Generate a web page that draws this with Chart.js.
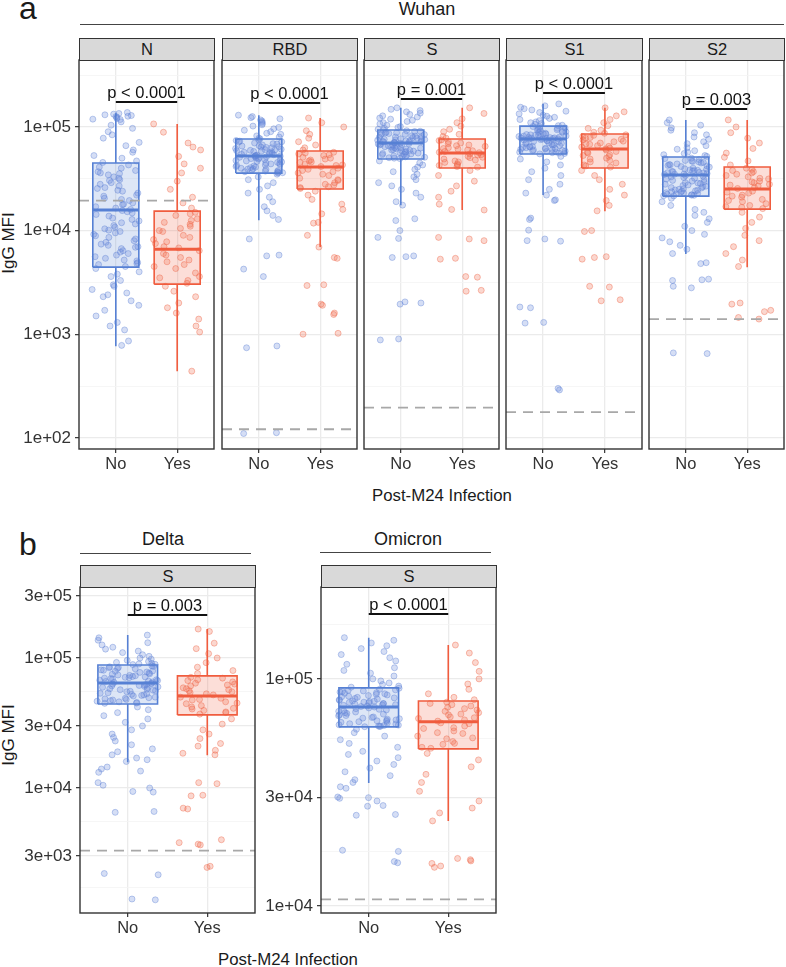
<!DOCTYPE html>
<html>
<head>
<meta charset="utf-8">
<script src="https://cdn.jsdelivr.net/npm/chart.js@4.4.0/dist/chart.umd.min.js"></script>
<style>
body { margin: 0; background: #fff; font-family: "Liberation Sans", Arial, sans-serif; color: #1a1a1a; }
#page { position: relative; width: 786px; height: 967px; overflow: hidden; }
canvas { position: absolute; }
.t { position: absolute; white-space: nowrap; line-height: 1; }
.c { transform: translateX(-50%); }
.strip { position: absolute; background: #d9d9d9; border: 1.4px solid #333; box-sizing: border-box;
         text-align: center; font-size: 16.5px; color: #1a1a1a; }
.rule { position: absolute; height: 0; border-top: 1.5px solid #444; }
.ylab { position: absolute; white-space: nowrap; font-size: 17px; line-height: 1;
        transform: translate(-50%, -50%) rotate(-90deg); }
</style>
</head>
<body>
<div id="page">
  <div class="t" style="left:19px;top:-8px;font-size:32px">a</div>
  <div class="t c" style="left:427px;top:0px;font-size:18px">Wuhan</div>
  <div class="rule" style="left:80px;top:24px;width:704px"></div>

  <div class="t" style="left:19px;top:528px;font-size:32px">b</div>
  <div class="t c" style="left:163px;top:530px;font-size:18px">Delta</div>
  <div class="rule" style="left:80px;top:553px;width:171px"></div>
  <div class="t c" style="left:408px;top:530px;font-size:18px">Omicron</div>
  <div class="rule" style="left:320px;top:552px;width:171px"></div>

  <div class="ylab" style="left:8px;top:243px">IgG MFI</div>
  <div class="ylab" style="left:8px;top:735px">IgG MFI</div>
  <div class="t c" style="left:442px;top:488px;font-size:16.8px">Post-M24 Infection</div>
  <div class="t c" style="left:288px;top:952px;font-size:16.8px">Post-M24 Infection</div>
</div>
<script>
// facets and labels
const facetNames = ['N', 'RBD', 'S', 'S1', 'S2', 'S', 'S'];
const groups = ['No', 'Yes'];
const pText = ['p < 0.0001', 'p < 0.0001', 'p = 0.001', 'p < 0.0001', 'p = 0.003', 'p = 0.003', 'p < 0.0001'];
const pBar = [174000, 170000, 186000, 213000, 149000, 214000, 193000];
const cutoff = [19500, 121, 196, 177, 1400, 3300, 10700];

// box stats: lower whisker, Q1, median, Q3, upper whisker
const boxNo = [
  [766, 4440, 15800, 44900, 136000],
  [12600, 35900, 52500, 76600, 130000],
  [17600, 49100, 70000, 93500, 153000],
  [22000, 54800, 76600, 102000, 167000],
  [5930, 21500, 34400, 51300, 117000],
  [15800, 44300, 64300, 88300, 150000],
  [34800, 61500, 75300, 91300, 152000]
];
const boxYes = [
  [440, 3040, 6620, 15400, 107000],
  [6930, 25200, 41100, 58700, 122000],
  [15800, 40200, 56100, 76600, 153000],
  [15400, 40200, 61300, 85600, 153000],
  [4440, 16100, 25200, 41100, 117000],
  [17900, 36500, 51000, 72800, 167000],
  [23700, 49200, 64700, 80000, 141000]
];

// y axis breaks
const majorA = [100, 1000, 10000, 100000];
const minorA = [316, 3160, 31600, 316000];
const majorDelta = [3000, 10000, 30000, 100000, 300000];
const minorDelta = [1730, 5480, 17300, 54800, 173000];
const majorOmi = [10000, 30000, 100000];
const minorOmi = [17300, 54800, 173000];

// individual samples (IgG MFI)
const nNo = [138000,135000,133000,131000,129000,127000,126000,124000,121000,119000,118000,112000,104000,97000,90000,84000,78000,71000,66000,60000,57000,53000,50000,47000,45500,
  43000,41000,38000,36000,34500,32000,30500,29000,27000,25500,24000,23000,21500,20500,19500,18500,17800,17000,16500,16000,
  15200,14300,13200,12400,11600,10800,10100,9500,8900,8300,7700,7200,6700,6200,5800,5400,5100,4900,4700,4500,
  4300,4000,3800,3600,3300,3000,2900,2700,2500,2400,2300,2100,1900,1700,1500,1300,1200,1100,860,780,
  40000,37000,33000,31000,28000,26000,22000,20000,18000,14800,13800,12800,11200,10400,9800,9200,8600,8000,7400,6900,6400,6000,5600,5200,4800,35500,24500,15600,11900,7000];
const nYes = [107000,89000,70000,64000,60000,52000,44000,40000,36000,30000,25000,21000,18500,16500,
  15000,14000,12500,11500,10500,9800,9000,8200,7500,7000,
  6400,6000,5500,5000,4700,4300,3900,3600,3300,3100,
  2900,2600,2300,2000,1800,1600,1400,1200,1050,440,
  14500,13000,12000,11000,10000,8600,7800,6800,5800,5200,4500,3500];
const rbdNo = [130000,126000,123000,120000,117000,114000,111000,108000,105000,102000,99000,96000,93000,90000,87000,85000,82000,80000,78000,77000,
  75000,73000,71500,70000,68500,67000,65500,64000,63000,62000,60500,59000,58000,57000,56000,55000,54000,53500,53000,52700,
  52000,51000,50000,49000,48000,47000,46000,45000,44000,43000,42000,41000,40000,39500,39000,38000,37500,37000,36500,36000,
  35000,33000,31000,29000,27000,25000,23000,21000,19000,17000,15500,14000,12800,8300,5800,5700,4250,3600,770,740,112,110,
  74000,72000,69000,66000,63500,61000,59500,57500,55500,54500,51500,50500,48500,47500,46500,44500,43500,41500,40500,38500,37200,36200,64500,58500,52300,49500,45500,42500,39200,60000];
const rbdYes = [122000,110000,100000,92000,85000,78000,72000,67000,63000,60000,
  57000,55000,53000,51000,49000,47000,45500,44000,42500,41500,
  40000,38000,36000,34000,32000,30500,29000,27500,26500,25500,
  24000,22000,20000,18000,16000,14500,12000,11800,9000,6930,5500,5400,3000,2950,1950,1900,1600,1550,1020,1000,
  56000,54000,50000,48000,46000,43000,39000,37000,35000,31000,28000,26000];
const sNo = [153000,148000,144000,140000,136000,132000,128000,125000,122000,119000,116000,113000,110000,107000,104000,101000,99000,97000,95000,94000,
  92000,90500,89000,87500,86000,84500,83000,81500,80000,79000,78000,77000,76000,75000,74000,73000,72000,71500,71000,70500,
  69000,68000,67000,66000,65000,64000,63000,62000,61000,60000,59000,58000,57000,56000,55000,54000,53000,52000,51000,50000,
  47000,45000,43000,41000,39000,37000,35000,33000,31000,29000,27000,25000,23000,21000,19000,17600,13000,12500,10000,8600,8400,5700,5600,5500,2050,2000,1950,900,880,
  91000,88000,85000,82000,79500,77500,75500,73500,72500,69500,68500,66500,64500,62500,60500,58500,56500,54500,52500,50500,49500,86500,80500,74500,67500,63500,59500,55500,51500,70200];
const sYes = [153000,135000,120000,110000,102000,95000,90000,85000,81000,78000,
  75000,72000,69000,67000,65000,63000,61000,59000,58000,57000,
  55000,53500,52000,50500,49000,47000,45500,44000,42500,41000,
  38000,34000,30000,27000,24000,21000,18000,16000,15800,8600,8300,8000,5400,5300,3600,3550,2650,2600,
  74000,70000,66000,62000,60000,56500,54000,51000,48000,46000,43000,41500];
const s1No = [167000,160000,155000,150000,146000,142000,138000,134000,130000,127000,124000,121000,118000,115000,112000,110000,108000,106000,104000,103000,
  100000,98000,96000,94000,92000,90000,88500,87000,85500,84000,83000,82000,81000,80000,79000,78500,78000,77500,77000,76800,
  75500,74000,72500,71000,69500,68000,66500,65000,64000,63000,62000,61000,60000,59000,58000,57000,56500,56000,55500,55000,
  52000,49000,46000,43000,40000,37000,34000,31000,28000,25000,23000,22000,19800,19500,13200,12800,10100,8300,8000,7900,1830,1800,1300,1280,300,290,
  101000,97000,93000,89000,86000,83500,81500,79500,78200,77200,76200,75000,73500,72000,70500,69000,67500,66000,64500,63500,62500,61500,60500,59500,58500,57500,95000,91000,84500,80500];
const s1Yes = [153000,140000,128000,118000,110000,103000,97000,93000,89000,87000,
  84000,81000,78000,75000,72000,70000,68000,66000,64000,62500,
  60000,58000,56000,54000,52000,50000,47500,45000,43000,41000,
  38000,34000,31000,28000,25000,22000,19500,17500,15500,10000,9800,5600,5500,5300,2900,2850,2150,2100,
  83000,79000,76000,73000,69000,65000,61500,57000,53000,49000,46000,42000];
const s2No = [117000,110000,104000,98000,93000,88000,84000,80000,76000,72000,69000,66000,63000,61000,59000,57000,55500,54000,53000,52000,
  50000,48500,47000,46000,45000,44000,43000,42000,41000,40000,39000,38500,38000,37500,37000,36500,36000,35500,35000,34800,
  33500,32500,31500,30500,29500,28800,28000,27200,26500,25800,25000,24500,24000,23500,23000,22600,22200,21900,21700,21600,
  20500,19000,17500,16000,15000,14000,13000,12000,11000,10000,9200,8500,7800,7200,6600,6000,4900,4800,3400,3350,3300,2900,2800,660,650,
  49500,47500,45500,43500,41500,39500,38200,37200,36200,35200,34000,33000,32000,31000,30000,29000,27600,26800,26000,25300,24700,24200,23700,23200,22800,22400,22000,46500,42500,28400];
const s2Yes = [117000,100000,88000,78000,70000,62000,56000,51000,47000,43000,
  39000,37000,35000,33000,31500,30000,29000,28000,27000,26000,
  24000,23000,22000,21000,20000,19000,18200,17500,16800,16300,
  15000,13500,12000,10500,9000,8000,7000,6000,5200,4500,2000,1950,1700,1650,1450,1400,
  40000,38000,36000,34000,32000,29500,27500,25500,23500,21500,19500,17000];
const deltaNo = [150000,143000,137000,131000,126000,121000,117000,113000,110000,106000,103000,100000,98000,96000,94000,92500,91000,90000,89500,89000,
  87000,85500,84000,82500,81000,79500,78000,76500,75000,74000,73000,72000,71000,70000,69000,68000,67000,66000,65500,65000,
  63000,62000,61000,60000,59000,58000,57000,56000,55000,54000,53000,52000,51000,50000,49000,48000,47000,46000,45500,45000,
  42000,40000,38000,36000,34000,32000,30000,28000,26000,24500,23000,21500,20000,19000,18000,17000,16500,16000,14500,14000,13500,13200,11000,10500,10000,9400,9300,6600,6500,2200,2150,1400,1380,
  86000,83000,80500,77500,75500,73500,71500,69500,67500,66500,64000,62500,61500,60500,59500,57500,55500,53500,51500,49500,47500,46500,44800,84500,79000,70500,63500,56500,52500,48500];
const deltaYes = [167000,160000,130000,118000,108000,100000,92000,85000,80000,76000,
  71000,68000,65500,63000,61000,59000,57000,55000,53000,52000,
  49000,47500,46000,44500,43000,42000,40500,39500,38000,37000,
  34000,31000,28000,26000,24000,22000,21000,19500,18500,18000,11000,10800,8800,8700,7000,6900,4000,3800,3700,3650,2500,2450,
  70000,67000,64000,62000,58000,56000,54000,50000,48000,45000,41000,38500];
const omiNo = [152000,148000,144000,140000,136000,132000,128000,124000,120000,116000,112000,109000,106000,103000,100000,98000,96000,94500,93000,92000,
  90000,89000,88000,87000,86000,85000,84000,83000,82000,81000,80000,79500,79000,78500,78000,77500,77000,76500,76000,75600,
  74500,73500,72500,71500,70500,69500,68800,68000,67200,66500,65800,65000,64400,63800,63300,62800,62400,62000,61800,61600,
  60000,58000,56000,54000,52000,50000,48000,46500,45000,43500,42000,40500,39000,37500,36000,35000,33500,33000,30200,30000,29800,29000,27700,27500,25300,25100,17600,17400,15700,15500,
  91000,89500,88500,87500,86500,85500,84500,83500,82500,81500,80500,79800,78800,77800,76800,75200,74000,73000,72000,71000,70000,69000,67600,66800,66000,65400,64800,63500,62600,61900];
const omiYes = [141000,130000,118000,108000,100000,95000,90000,86000,83000,81000,
  79000,77000,75000,73000,71000,69500,68000,67000,66000,65200,
  63500,62000,60500,59000,57500,56000,54500,53000,51500,50000,
  47000,44000,41000,38000,35000,32000,29000,27000,25700,23700,16200,16000,15800,15400,15000,14800,
  78000,76000,74000,72000,70000,67500,64000,61000,58000,55000,52000,49500];

const BLUE = 'rgb(86,128,212)';
const RED = 'rgb(240,92,62)';
const boxFill = ['rgba(86,128,212,0.2)', 'rgba(240,92,62,0.2)'];
const ptFill = ['rgba(105,138,218,0.28)', 'rgba(242,112,82,0.28)'];
const ptEdge = ['rgba(95,130,212,0.5)', 'rgba(238,100,70,0.5)'];

Chart.defaults.font.family = '"Liberation Sans", Arial, sans-serif';
const page = document.getElementById('page');

function sci(v) {
  const e = Math.floor(Math.log10(v) + 1e-9);
  const m = Math.round(v / Math.pow(10, e));
  return m + 'e+' + String(e).padStart(2, '0');
}

// horizontal jitter like geom_jitter (fixed hash so the picture is stable)
function spread(i, seed) {
  const s = Math.sin((i + 1) * 12.9898 + seed * 78.233) * 43758.5453;
  return s - Math.floor(s);
}
function jitter(vals, c, seed) {
  return vals.map((v, i) => ({ x: c + (spread(i, seed) - 0.5) * 0.78, y: v }));
}

function boxSets(s, c, col, fill) {
  const l = c - 0.375, r = c + 0.375;
  const line = { type: 'line', showLine: true, pointRadius: 0, borderColor: col, borderWidth: 1.6, order: 1 };
  return [
    { type: 'line', data: [{ x: l, y: s[3] }, { x: r, y: s[3] }], fill: { value: s[1] },
      backgroundColor: fill, borderWidth: 0, pointRadius: 0, order: 3 },
    Object.assign({}, line, { data: [{ x: l, y: s[1] }, { x: r, y: s[1] }, { x: r, y: s[3] }, { x: l, y: s[3] }, { x: l, y: s[1] }] }),
    Object.assign({}, line, { data: [{ x: l, y: s[2] }, { x: r, y: s[2] }], borderWidth: 3 }),
    Object.assign({}, line, { data: [{ x: c, y: s[4] }, { x: c, y: s[3] }, { x: c, y: null }, { x: c, y: s[1] }, { x: c, y: s[0] }] })
  ];
}

function facet(k, L, T, W, H, yW, yMin, yMax, majors, minors, noVals, yesVals) {
  const xH = 30;
  const cv = document.createElement('canvas');
  cv.width = yW + W + 4;
  cv.height = H + xH + 2;
  cv.style.left = (L - yW - 2) + 'px';
  cv.style.top = (T - 2) + 'px';
  page.appendChild(cv);

  const strip = document.createElement('div');
  strip.className = 'strip';
  strip.style.cssText = `left:${L}px;top:${T - 22}px;width:${W + 1}px;height:23px;line-height:21px`;
  strip.textContent = facetNames[k];
  page.appendChild(strip);

  const showY = yW > 0;
  const isMajor = v => majors.includes(v);

  const deco = {
    id: 'deco',
    afterDatasetsDraw(chart) {
      const { ctx, scales: { x, y } } = chart;
      ctx.save();
      ctx.fillStyle = '#111';
      ctx.font = '16.5px "Liberation Sans", Arial, sans-serif';
      ctx.textAlign = 'center';
      ctx.textBaseline = 'alphabetic';
      ctx.fillText(pText[k], x.getPixelForValue(1.5), y.getPixelForValue(pBar[k]) - 4);
      ctx.restore();
    },
    afterDraw(chart) {
      const a = chart.chartArea, ctx = chart.ctx;
      ctx.save();
      ctx.strokeStyle = '#333';
      ctx.lineWidth = 1.4;
      ctx.strokeRect(a.left, a.top, a.right - a.left, a.bottom - a.top);
      ctx.restore();
    }
  };

  new Chart(cv, {
    type: 'scatter',
    data: {
      datasets: [
        { type: 'line', data: [{ x: 0.4, y: cutoff[k] }, { x: 2.6, y: cutoff[k] }], borderColor: '#a8a8a8',
          borderWidth: 1.8, borderDash: [10, 7], pointRadius: 0, order: 0 },
        { type: 'line', data: [{ x: 1, y: pBar[k] }, { x: 2, y: pBar[k] }], borderColor: '#111',
          borderWidth: 2, pointRadius: 0, order: 0 },
        ...boxSets(boxNo[k], 1, BLUE, boxFill[0]),
        ...boxSets(boxYes[k], 2, RED, boxFill[1]),
        { data: jitter(noVals, 1, k + 1), pointRadius: 3, borderWidth: 0.8,
          backgroundColor: ptFill[0], borderColor: ptEdge[0], order: 2 },
        { data: jitter(yesVals, 2, k + 11), pointRadius: 3, borderWidth: 0.8,
          backgroundColor: ptFill[1], borderColor: ptEdge[1], order: 2 }
      ]
    },
    options: {
      responsive: false,
      animation: false,
      devicePixelRatio: 1,
      events: [],
      layout: { autoPadding: false, padding: { left: 2, right: 2, top: 2, bottom: 0 } },
      plugins: { legend: { display: false }, tooltip: { enabled: false } },
      scales: {
        x: {
          type: 'linear', min: 0.4, max: 2.6, bounds: 'data',
          afterBuildTicks: s => { s.ticks = [{ value: 1 }, { value: 2 }]; },
          afterFit: s => { s.height = xH; s.paddingLeft = 0; s.paddingRight = 0; },
          border: { display: false },
          grid: { color: '#ebebeb', lineWidth: 1.3, tickColor: '#333', tickLength: 4, tickWidth: 1.2 },
          ticks: { callback: v => groups[Math.round(v) - 1], color: '#333', padding: 2,
                   maxRotation: 0, autoSkip: false, font: { size: 16.5 } }
        },
        y: {
          type: 'logarithmic', min: yMin, max: yMax, bounds: 'data',
          afterBuildTicks: s => { s.ticks = majors.concat(minors).sort((a, b) => a - b).map(v => ({ value: v })); },
          afterFit: s => { s.width = yW; s.paddingTop = 0; s.paddingBottom = 0; },
          border: { display: false },
          grid: {
            color: c => isMajor(c.tick.value) ? '#ebebeb' : '#f4f4f4',
            lineWidth: c => isMajor(c.tick.value) ? 1.3 : 0.8,
            drawTicks: showY,
            tickColor: c => isMajor(c.tick.value) ? '#333' : 'rgba(0,0,0,0)',
            tickLength: 4, tickWidth: 1.2
          },
          ticks: { display: showY, callback: v => isMajor(v) ? sci(v) : '', color: '#333', padding: 4,
                   autoSkip: false, font: { size: 17 } }
        }
      }
    },
    plugins: [deco]
  });
}

const yA = [78, 443000];
facet(0, 79, 60, 135, 389, 79, yA[0], yA[1], majorA, minorA, nNo, nYes);
facet(1, 222, 60, 135, 389, 0, yA[0], yA[1], majorA, minorA, rbdNo, rbdYes);
facet(2, 364, 60, 135, 389, 0, yA[0], yA[1], majorA, minorA, sNo, sYes);
facet(3, 506, 60, 136, 389, 0, yA[0], yA[1], majorA, minorA, s1No, s1Yes);
facet(4, 649, 60, 135, 389, 0, yA[0], yA[1], majorA, minorA, s2No, s2Yes);
facet(5, 80, 587, 175, 326, 80, 1093, 351600, majorDelta, minorDelta, deltaNo, deltaYes);
facet(6, 321, 587, 175, 326, 63, 9316, 254000, majorOmi, minorOmi, omiNo, omiYes);
</script>
</body>
</html>
